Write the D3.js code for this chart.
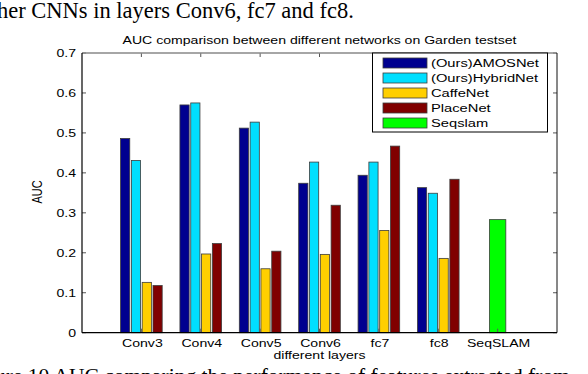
<!DOCTYPE html>
<html><head><meta charset="utf-8">
<script src="https://cdn.jsdelivr.net/npm/d3@7"></script>
<style>body{margin:0;background:#fff}svg{display:block}</style>
</head><body>
<script>
const categories = ["Conv3","Conv4","Conv5","Conv6","fc7","fc8","SeqSLAM"];
const seriesNames = ["(Ours)AMOSNet","(Ours)HybridNet","CaffeNet","PlaceNet","Seqslam"];
const seriesColors = ["#00008f","#00dfff","#ffcf00","#800000","#00ff00"];
const amosnet  = [0.486,0.570,0.512,0.374,0.394,0.363];
const hybridnet = [0.431,0.575,0.527,0.427,0.427,0.349];
const caffenet = [0.126,0.197,0.160,0.196,0.256,0.186];
const placenet = [0.118,0.223,0.204,0.319,0.467,0.384];
const seqslam = [0.283];
const yTicks = [0,0.1,0.2,0.3,0.4,0.5,0.6,0.7];
const yTickLabels = ["0","0.1","0.2","0.3","0.4","0.5","0.6","0.7"];

const W=588,H=374;
const svg=d3.select("body").append("svg").attr("width",W).attr("height",H);
const L=82,R=557,T=53,B=332.7;
const x=d3.scaleLinear().domain([0,8]).range([L,R]);
const y=d3.scaleLinear().domain([0,0.7]).range([B,T]);
const SX=1.28;
const font="Liberation Sans, Arial, sans-serif";

function stext(g,tx,ty,str,size,anchor,rot){
  const t=g.append("text").attr("transform",`translate(${tx},${ty}) scale(${SX},1)`+(rot?` rotate(${rot})`:""))
   .attr("font-family",font).attr("font-size",size).attr("text-anchor",anchor||"start").attr("fill","#000").text(str);
  return t;
}

// surrounding document text
svg.append("text").attr("x",-3).attr("y",18).attr("font-family","Liberation Serif, Times New Roman, serif")
  .attr("font-size",22.5).attr("fill","#000").text("her CNNs in layers Conv6, fc7 and fc8.");
svg.append("text").attr("x",-5).attr("y",383).attr("font-family","Liberation Serif, Times New Roman, serif")
  .attr("font-size",21.5).attr("fill","#000").text("ure 10 AUC comparing the performance of features extracted from");

// bars
const series=[amosnet,hybridnet,caffenet,placenet];
const step=0.182, bw=0.155;
series.forEach((vals,j)=>{
  svg.append("g").selectAll("rect").data(vals).join("rect")
   .attr("x",(d,i)=>x(i+1+(j-1.5)*step-bw/2))
   .attr("width",x(bw)-x(0))
   .attr("y",d=>y(d)).attr("height",d=>y(0)-y(d))
   .attr("fill",seriesColors[j]).attr("stroke","#3c3c3c").attr("stroke-width",0.8);
});
svg.append("g").selectAll("rect").data(seqslam).join("rect")
  .attr("x",(d,i)=>x(7+i-0.138)).attr("width",x(0.276)-x(0))
  .attr("y",d=>y(d)).attr("height",d=>y(0)-y(d))
  .attr("fill",seriesColors[4]).attr("stroke","#3c3c3c").attr("stroke-width",0.8);

// ticks
const tk=svg.append("g").attr("stroke","#555").attr("stroke-width",1);
categories.forEach((c,i)=>{
  tk.append("line").attr("x1",x(i+1)).attr("x2",x(i+1)).attr("y1",B).attr("y2",B-4);
  tk.append("line").attr("x1",x(i+1)).attr("x2",x(i+1)).attr("y1",T).attr("y2",T+4);
});
yTicks.forEach(v=>{
  tk.append("line").attr("x1",L).attr("x2",L+4).attr("y1",y(v)).attr("y2",y(v));
  tk.append("line").attr("x1",R).attr("x2",R-4).attr("y1",y(v)).attr("y2",y(v));
});
// frame
svg.append("line").attr("x1",L).attr("x2",R).attr("y1",T).attr("y2",T).attr("stroke","#888").attr("stroke-width",1.5);
svg.append("line").attr("x1",R).attr("x2",R).attr("y1",T).attr("y2",B).attr("stroke","#111").attr("stroke-width",1);
svg.append("line").attr("x1",L).attr("x2",L).attr("y1",T).attr("y2",B).attr("stroke","#000").attr("stroke-width",1.2);
svg.append("line").attr("x1",L).attr("x2",R).attr("y1",B).attr("y2",B).attr("stroke","#000").attr("stroke-width",1.2);

// tick labels
yTicks.forEach((v,i)=>stext(svg,76,y(v)+4,yTickLabels[i],11,"end"));
categories.forEach((c,i)=>stext(svg,x(i+1)+1,347,c,11,"middle"));
stext(svg,(L+R)/2,359,"different layers",11,"middle");
stext(svg,(L+R)/2,44,"AUC comparison between different networks on Garden testset",11,"middle");
svg.append("text").attr("transform",`translate(42,192) scale(${SX},1) rotate(-90)`)
  .attr("font-family",font).attr("font-size",11).attr("text-anchor","middle").text("AUC");

// legend
const lg=svg.append("g");
lg.append("rect").attr("x",372.5).attr("y",53).attr("width",175).attr("height",79)
  .attr("fill","#fff").attr("stroke","#000").attr("stroke-width",1);
seriesNames.forEach((n,i)=>{
  const cy=63+i*15;
  lg.append("rect").attr("x",383).attr("y",cy-5).attr("width",44).attr("height",10)
    .attr("fill",seriesColors[i]).attr("stroke","#3c3c3c").attr("stroke-width",0.8);
  stext(lg,431,cy+4,n,11.5,"start");
});
</script>
</body></html>
